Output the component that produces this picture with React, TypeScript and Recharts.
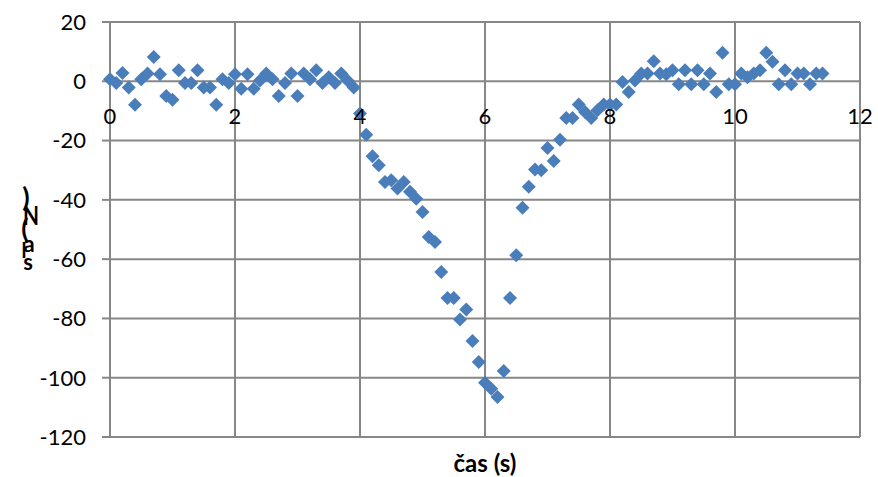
import { CartesianGrid, Scatter, ScatterChart, XAxis, YAxis } from "recharts";

const time = [
  0, 0.1, 0.2, 0.3, 0.4, 0.5, 0.6, 0.7, 0.8, 0.9,
  1.0, 1.1, 1.2, 1.3, 1.4, 1.5, 1.6, 1.7, 1.8, 1.9,
  2.0, 2.1, 2.2, 2.3, 2.4, 2.5, 2.6, 2.7, 2.8, 2.9,
  3.0, 3.1, 3.2, 3.3, 3.4, 3.5, 3.6, 3.7, 3.8, 3.9,
  4.0, 4.1, 4.2, 4.3, 4.4, 4.5, 4.6, 4.7, 4.8, 4.9,
  5.0, 5.1, 5.2, 5.3, 5.4, 5.5, 5.6, 5.7, 5.8, 5.9,
  6.0, 6.1, 6.2, 6.3, 6.4, 6.5, 6.6, 6.7, 6.8, 6.9,
  7.0, 7.1, 7.2, 7.3, 7.4, 7.5, 7.6, 7.7, 7.8, 7.9,
  8.0, 8.1, 8.2, 8.3, 8.4, 8.5, 8.6, 8.7, 8.8, 8.9,
  9.0, 9.1, 9.2, 9.3, 9.4, 9.5, 9.6, 9.7, 9.8, 9.9,
  10.0, 10.1, 10.2, 10.3, 10.4, 10.5, 10.6, 10.7, 10.8, 10.9,
  11.0, 11.1, 11.2, 11.3, 11.4,
];

const force = [
  0.7, -0.6, 2.8, -2.1, -7.9, 0.7, 2.6, 8.2, 2.4, -5,
  -6.2, 3.7, -0.6, -0.6, 3.7, -2.1, -2.1, -7.9, 0.7, -0.6,
  2.4, -2.5, 2.4, -2.5, 0.3, 2.6, 0.7, -5, -0.6, 2.6,
  -5, 2.6, 0.7, 3.7, -0.6, 1.4, -0.6, 2.6, 0.3, -2.1,
  -10.9, -18, -25.3, -28.3, -34, -33.4, -36.2, -34, -37.3, -39.6,
  -44.1, -52.5, -54.2, -64.3, -73.1, -73.1, -80.4, -77, -87.6, -94.7,
  -101.7, -103.7, -106.5, -97.7, -73.1, -58.7, -42.7, -35.6, -29.8, -30,
  -22.5, -26.9, -19.7, -12.4, -12.4, -7.8, -10.4, -12.4, -9.8, -7.8,
  -7.8, -7.8, -0.2, -3.6, 0.3, 2.6, 2.6, 6.8, 2.6, 2.4,
  3.7, -1, 3.7, -1, 3.7, -1, 2.6, -3.6, 9.6, -1,
  -1, 2.6, 1.4, 2.6, 3.7, 9.6, 6.6, -1, 3.7, -1,
  2.6, 2.6, -1, 2.6, 2.6,
];

const xTicks = [0, 2, 4, 6, 8, 10, 12];
const yTicks = [-120, -100, -80, -60, -40, -20, 0, 20];

const data = time.map((t, i) => ({ t, f: force[i] }));

const W = 878;
const H = 477;
const M = { top: 22, right: 18, bottom: 0, left: 0 };
const X_AXIS_H = 40;
const Y_MIN = -120;
const Y_MAX = 20;
const plotH = H - M.top - M.bottom - X_AXIS_H;
const zeroY = M.top + (plotH * Y_MAX) / (Y_MAX - Y_MIN);

const FONT = "Lato, 'Liberation Sans', sans-serif";
const GRID = "#878787";
const BLUE = "#4a7ebb";

function Diamond(props: any) {
  const { cx, cy } = props;
  const r = 7;
  return (
    <polygon
      points={`${cx},${cy - r} ${cx + r},${cy} ${cx},${cy + r} ${cx - r},${cy}`}
      fill={BLUE}
    />
  );
}

function XTick(props: any) {
  const { x, payload } = props;
  return (
    <text x={x} y={zeroY + 43} textAnchor="middle" fontSize={22} fontFamily={FONT} fill="#000">
      {payload.value}
    </text>
  );
}

// the y title in the source is a broken vertical stack of characters
function YTitle() {
  const s = { fontWeight: 700, fontFamily: FONT, fill: "#000", textAnchor: "middle" } as const;
  return (
    <g>
      <text x={26} y={207} fontSize={27} {...s}>)</text>
      <text x={31} y={225} fontSize={26} transform="translate(31 225) scale(0.8 1) translate(-31 -225)" {...s}>N</text>
      <text x={25} y={238} fontSize={27} {...s}>(</text>
      <text x={29} y={252} fontSize={22} {...s}>a</text>
      <text x={24} y={258} fontSize={20} {...s}>l</text>
      <text x={28} y={270} fontSize={22} {...s}>s</text>
    </g>
  );
}

export default function App() {
  return (
    <div style={{ position: "absolute", left: 0, top: 0, width: W, height: H, background: "#fff" }}>
      <ScatterChart width={W} height={H} margin={M}>
        <CartesianGrid stroke={GRID} strokeWidth={2} />
        <XAxis
          type="number"
          dataKey="t"
          domain={[0, 12]}
          ticks={xTicks}
          height={X_AXIS_H}
          axisLine={false}
          tickLine={false}
          tick={<XTick />}
          label={{
            value: "čas (s)",
            position: "insideBottom",
            offset: 5,
            style: { fontSize: 24, fontWeight: 700, fontFamily: FONT, fill: "#000" },
          }}
        />
        <YAxis
          type="number"
          dataKey="f"
          domain={[Y_MIN, Y_MAX]}
          ticks={yTicks}
          width={110}
          axisLine={{ stroke: GRID, strokeWidth: 2 }}
          tickLine={{ stroke: GRID, strokeWidth: 2 }}
          tickSize={8}
          tickMargin={16}
          tick={{ fontSize: 22, fontFamily: FONT, fill: "#000" }}
          label={{ content: () => <YTitle /> }}
        />
        <Scatter data={data} shape={<Diamond />} isAnimationActive={false} />
      </ScatterChart>
    </div>
  );
}
